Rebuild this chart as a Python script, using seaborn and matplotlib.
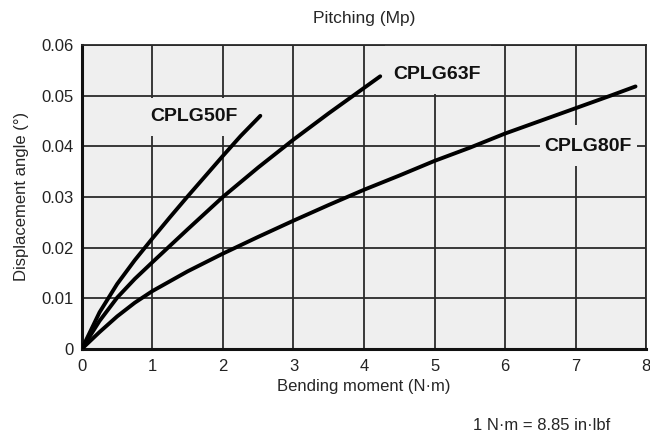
import pandas as pd
import matplotlib
matplotlib.use("Agg")
import matplotlib.pyplot as plt
from matplotlib.patches import Rectangle
import seaborn as sns

# values
x_50f = [0, 0.25, 0.5, 0.75, 1.0, 1.25, 1.5, 1.75, 2.0, 2.25, 2.53]
y_50f = [0, 0.0072, 0.0128, 0.0175, 0.0218, 0.026, 0.0301, 0.0341, 0.0381, 0.042, 0.046]

x_63f = [0, 0.25, 0.5, 0.75, 1.0, 1.5, 2.0, 2.5, 3.0, 3.5, 4.0, 4.23]
y_63f = [0, 0.0055, 0.0101, 0.0138, 0.0171, 0.0236, 0.030, 0.0358, 0.0413, 0.0465, 0.0515, 0.0538]

x_80f = [0, 0.25, 0.5, 0.75, 1.0, 1.5, 2.0, 2.5, 3.0, 3.5, 4.0, 4.5, 5.0, 5.5, 6.0, 6.5, 7.0, 7.5, 7.85]
y_80f = [0, 0.0033, 0.0064, 0.0091, 0.0114, 0.0153, 0.0188, 0.0221, 0.0253, 0.0284, 0.0314,
         0.0342, 0.0371, 0.0397, 0.0425, 0.045, 0.0475, 0.050, 0.0518]

x_ticks = [0, 1, 2, 3, 4, 5, 6, 7, 8]
y_ticks = [0, 0.01, 0.02, 0.03, 0.04, 0.05, 0.06]
y_tick_labels = ["0", "0.01", "0.02", "0.03", "0.04", "0.05", "0.06"]

df = pd.concat([
    pd.DataFrame({"moment": x_50f, "angle": y_50f, "model": "CPLG50F"}),
    pd.DataFrame({"moment": x_63f, "angle": y_63f, "model": "CPLG63F"}),
    pd.DataFrame({"moment": x_80f, "angle": y_80f, "model": "CPLG80F"}),
])

bg = "#efefef"
sns.set_style("ticks", {"axes.facecolor": bg})
plt.rcParams["font.family"] = ["Liberation Sans", "DejaVu Sans"]

fig = plt.figure(figsize=(6.5, 4.36), dpi=100)
ax = fig.add_axes([0.126, 0.2, 0.868, 0.697])

for m, sub in df.groupby("model"):
    sns.lineplot(data=sub, x="moment", y="angle", ax=ax, color="black",
                 linewidth=2.8, sort=False, legend=False, zorder=5)

ax.set_xlim(0, 8)
ax.set_ylim(0, 0.06)
ax.set_xticks(x_ticks)
ax.set_xticklabels([str(t) for t in x_ticks])
ax.set_yticks(y_ticks)
ax.set_yticklabels(y_tick_labels)
ax.tick_params(length=0, labelsize=12, colors="#222222")
ax.tick_params(axis="y", pad=6)
ax.tick_params(axis="x", pad=7)
ax.grid(True, color="#2a2a2a", linewidth=1.3, zorder=1)
ax.set_axisbelow(True)

for side in ["top", "right"]:
    ax.spines[side].set_linewidth(1.3)
    ax.spines[side].set_color("#2a2a2a")
for side in ["left", "bottom"]:
    ax.spines[side].set_linewidth(2.2)
    ax.spines[side].set_color("#111111")

# patches that clear the grid behind the labels
for (x0, y0, w, h) in [(0.9, 0.042, 1.5, 0.0076), (4.3, 0.0503, 1.5, 0.0097),
                       (6.5, 0.036, 1.37, 0.0082)]:
    ax.add_patch(Rectangle((x0, y0), w, h, facecolor=bg, edgecolor="none", zorder=2))

lab = dict(fontsize=14, fontweight="bold", color="#111111", zorder=6,
           ha="center", va="center")
ax.text(1.59, 0.0458, "CPLG50F", **lab)
ax.text(5.03, 0.0541, "CPLG63F", **lab)
ax.text(7.18, 0.0399, "CPLG80F", **lab)

ax.set_xlabel("Bending moment (N·m)", fontsize=12, labelpad=4)
ax.set_ylabel("Displacement angle (°)", fontsize=12, labelpad=9)
ax.set_title("Pitching (Mp)", fontsize=12.5, pad=16)
fig.text(0.834, 0.025, "1 N·m = 8.85 in·lbf", fontsize=12, ha="center", va="center")

fig.savefig("out.png", dpi=100)
